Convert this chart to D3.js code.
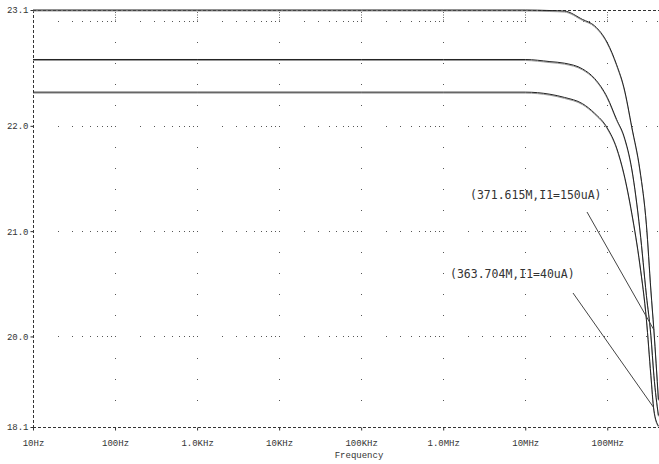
<!DOCTYPE html>
<html>
<head>
<meta charset="utf-8">
<script src="https://cdn.jsdelivr.net/npm/d3@7"></script>
<style>
  body { margin: 0; background: #fff; }
  svg { display: block; }
  .tick text { font-family: "Liberation Mono", "DejaVu Sans Mono", monospace; font-size: 9px; fill: #333; }
</style>
</head>
<body>
<div id="chart"></div>
<script>
// frequency sweep (Hz) and gain of the three curves
const freqs = [10, 1e3, 1e5, 1e6, 1e7, 2e7, 3e7, 5e7, 7e7, 1e8, 1.3e8, 1.6e8, 2e8, 2.5e8, 3e8, 3.4e8, 3.7e8, 4.2e8];
const gain150 = [23.10, 23.10, 23.10, 23.10, 23.10, 23.095, 23.09, 23.01, 22.95, 22.79, 22.58, 22.36, 21.98, 21.58, 21.06, 20.44, 20.06, 19.40];
const gainMid = [22.63, 22.63, 22.63, 22.63, 22.63, 22.61, 22.595, 22.54, 22.45, 22.27, 22.06, 21.90, 21.58, 21.01, 20.39, 20.01, 19.63, 19.25];
const gain40  = [22.32, 22.32, 22.32, 22.32, 22.32, 22.30, 22.27, 22.21, 22.12, 21.98, 21.79, 21.54, 21.16, 20.68, 20.16, 19.63, 19.30, 19.15];

const xTicks = [10, 100, 1e3, 1e4, 1e5, 1e6, 1e7, 1e8];
const xTickLabels = ["10Hz", "100Hz", "1.0KHz", "10KHz", "100KHz", "1.0MHz", "10MHz", "100MHz"];
const yTicks = [19.14, 20, 21, 22, 23.1];
const yTickLabels = ["18.1", "20.0", "21.0", "22.0", "23.1"];
const gridRows = [20, 21, 22, 23];

const markers = [
  { label: "(371.615M,I1=150uA)", f: 371.615e6, v: 20.06 },
  { label: "(363.704M,I1=40uA)", f: 363.704e6, v: 19.33 },
];

const W = 659, H = 464;
const plotLeft = 33, plotTop = 10, plotBottom = 427;
const decade = 82.04;

const x = d3.scaleLog().domain([10, 5e8]).range([plotLeft, plotLeft + decade * Math.log10(5e7)]);
const y = d3.scaleLinear().domain([19.14, 23.1]).range([plotBottom, plotTop]);

const svg = d3.select("#chart").append("svg").attr("width", W).attr("height", H);
svg.append("rect").attr("width", W).attr("height", H).attr("fill", "#fff");

svg.append("clipPath").attr("id", "plot")
  .append("rect").attr("x", plotLeft).attr("y", plotTop - 2).attr("width", W - plotLeft).attr("height", plotBottom - plotTop + 2);

// dotted grid: rows at whole values, dots on every 1..9 multiple
const dots = svg.append("g").attr("fill", "#555");
const mults = [];
xTicks.forEach(d => d3.range(1, 10).forEach(m => { if (d * m > 10 && d * m <= 4.5e8) mults.push(d * m); }));
gridRows.forEach(v => mults.forEach(f =>
  dots.append("rect").attr("x", Math.round(x(f))).attr("y", Math.round(y(v))).attr("width", 1).attr("height", 1)));

// decade columns: a dot every 0.2
const minor = d3.range(19.4, 23.0, 0.2).filter(v => Math.abs(v - Math.round(v)) > 0.05);
xTicks.slice(1).forEach(f => minor.forEach(v =>
  dots.append("rect").attr("x", Math.round(x(f))).attr("y", Math.round(y(v))).attr("width", 1).attr("height", 1)));

// short dense dotted piece above the 23.0 row
svg.append("g").selectAll("line").data(xTicks.slice(1)).join("line")
  .attr("x1", f => Math.round(x(f)) + 0.5).attr("x2", f => Math.round(x(f)) + 0.5)
  .attr("y1", y(23.1) + 2).attr("y2", y(23.0))
  .attr("stroke", "#666").attr("stroke-dasharray", "1,1.5");

// frame: dashed top, left and bottom
const frame = svg.append("g").attr("stroke", "#333").attr("stroke-width", 1).attr("stroke-dasharray", "3,2");
frame.append("line").attr("x1", plotLeft).attr("x2", W).attr("y1", plotTop + 0.5).attr("y2", plotTop + 0.5);
frame.append("line").attr("x1", plotLeft + 0.5).attr("x2", plotLeft + 0.5).attr("y1", plotTop).attr("y2", plotBottom);

const xAxis = svg.append("g").attr("transform", `translate(0,${plotBottom + 0.5})`)
  .call(d3.axisBottom(x).tickValues(xTicks).tickSize(3).tickFormat((d, i) => xTickLabels[i]));
xAxis.select(".domain").remove();
xAxis.selectAll(".tick line").attr("stroke", "#333");
xAxis.selectAll(".tick text").attr("y", 18).attr("dy", 0);
frame.append("line").attr("x1", plotLeft).attr("x2", W).attr("y1", plotBottom + 0.5).attr("y2", plotBottom + 0.5);

const yAxis = svg.append("g").attr("transform", `translate(${plotLeft + 0.5},0)`)
  .call(d3.axisLeft(y).tickValues(yTicks).tickSize(3).tickPadding(2).tickFormat((d, i) => yTickLabels[i]));
yAxis.select(".domain").remove();
yAxis.selectAll(".tick line").attr("stroke", "#333");

svg.append("text")
  .attr("x", 359).attr("y", 458).attr("text-anchor", "middle")
  .attr("font-family", "Liberation Mono, DejaVu Sans Mono, monospace").attr("font-size", 9).attr("fill", "#333")
  .text("Frequency");

// curves
const line = d3.line().x((d, i) => x(freqs[i])).y(d => y(d)).curve(d3.curveMonotoneX);
const curves = svg.append("g").attr("clip-path", "url(#plot)").attr("fill", "none");
[gain150, gainMid, gain40].forEach(s => {
  curves.append("path").attr("d", line(s)).attr("stroke", "#999").attr("stroke-width", 1).attr("transform", "translate(0,1)");
  curves.append("path").attr("d", line(s)).attr("stroke", "#222").attr("stroke-width", 1);
});

// marker labels with leader lines
const labelPos = [{ tx: 470, ty: 199, lx: 587, ly: 212 }, { tx: 450, ty: 278, lx: 573, ly: 293 }];
markers.forEach((m, i) => {
  const p = labelPos[i];
  svg.append("line")
    .attr("x1", p.lx).attr("y1", p.ly).attr("x2", x(m.f)).attr("y2", y(m.v))
    .attr("stroke", "#444").attr("stroke-width", 1);
  svg.append("text")
    .attr("x", p.tx).attr("y", p.ty)
    .attr("font-family", "DejaVu Sans Mono, monospace").attr("font-size", 11.5).attr("fill", "#333")
    .text(m.label);
});
</script>
</body>
</html>
